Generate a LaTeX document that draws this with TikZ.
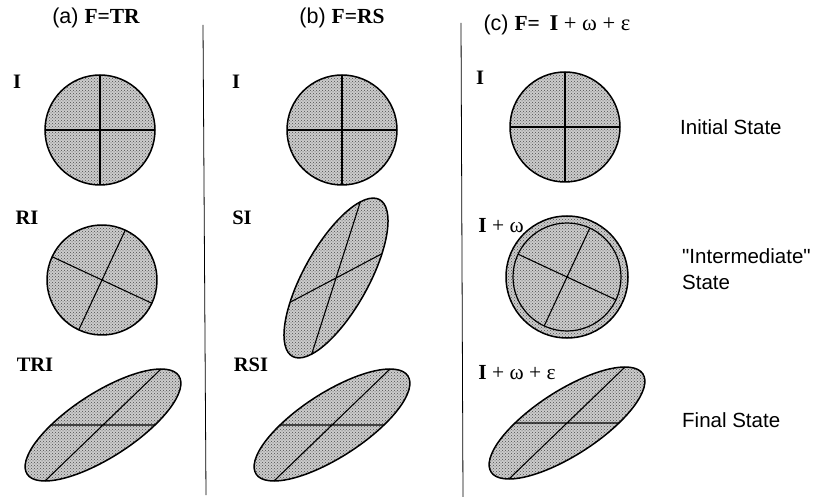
\documentclass[tikz,border=0pt]{standalone}
\usepackage{fontspec}
\setmainfont{Liberation Serif}
\setsansfont{Liberation Sans}
\newfontfamily\plainsans{Liberation Sans}
\usetikzlibrary{patterns}

\begin{document}
\begin{tikzpicture}[x=1pt, y=-1pt,
    blob/.style={draw=black, line width=1.5pt, preaction={fill=black!20},
      pattern=crosshatch dots, pattern color=black!70},
    axes/.style={line width=1.1pt},
    divider/.style={line width=0.8pt},
    tag/.style={inner sep=0pt, font=\rmfamily\bfseries\fontsize{20.5}{20.5}\selectfont},
    head/.style={inner sep=0pt, font=\plainsans\fontsize{21.5}{21.5}\selectfont},
    side/.style={inner sep=0pt, anchor=west, align=left,
      font=\plainsans\fontsize{20.5}{26}\selectfont}]
  \useasboundingbox (0,0) rectangle (817,497);

  % Column headings
  \node[head] (hdA) at (96,18) {(a) {\rmfamily\bfseries F=TR}};
  \node[head] (hdB) at (342,18) {(b) {\rmfamily\bfseries F=RS}};
  \node[head] (hdC) at (557,25) {(c) {\rmfamily\bfseries F=}\,
    {\rmfamily\fontsize{22.5}{22.5}\selectfont\textbf{I} + ω + ε}};

  % Dividers between the columns
  \draw[divider] (203,25) -- (206,495);
  \draw[divider] (461,23) -- (463,497);

  % Row labels
  \node[tag] (tAI) at (17,82) {I};
  \node[tag] (tBI) at (236,82) {I};
  \node[tag] (tCI) at (480,78) {I};
  \node[tag] (tRI) at (27,218) {RI};
  \node[tag] (tSI) at (242,218) {SI};
  \node[tag, font=\rmfamily\fontsize{21.5}{21.5}\selectfont] (tIw) at (501,226) {\textbf{I} + ω};
  \node[tag] (tTRI) at (35,365) {TRI};
  \node[tag] (tRSI) at (251,365) {RSI};
  \node[tag, font=\rmfamily\fontsize{21.5}{21.5}\selectfont] (tIwe) at (517,373) {\textbf{I} + ω + ε};

  % Initial state: undeformed circles
  \foreach \cx/\cy in {100/130, 342/130, 565/127} {
    \begin{scope}[shift={(\cx,\cy)}]
      \draw[blob] (0,0) circle (55pt);
      \draw[axes] (-55,0) -- (55,0) (0,-55) -- (0,55);
    \end{scope}
  }

  % (a) rotation R
  \begin{scope}[shift={(102,280)}, rotate=-25]
    \draw[blob] (0,0) circle (55pt);
    \draw[axes] (-55,0) -- (55,0) (0,-55) -- (0,55);
  \end{scope}

  % (b) stretch S
  \begin{scope}[shift={(336,278)}, cm={0.836,0.442,0.442,1.384,(0,0)}]
    \draw[blob] (0,0) circle (55pt);
    \draw[axes] (-55,0) -- (55,0) (0,-55) -- (0,55);
  \end{scope}

  % (c) I + omega, with its slight growth
  \begin{scope}[shift={(567,277)}]
    \draw[blob] (0,0) circle (61pt);
    \draw[line width=1.2pt] (0,0) circle (54pt);
    \begin{scope}[rotate=-25]
      \draw[axes] (-54,0) -- (54,0) (0,-54) -- (0,54);
    \end{scope}
  \end{scope}

  % Final state F in every column
  \foreach \cx/\cy in {103/425, 332/425, 567/423} {
    \begin{scope}[shift={(\cx,\cy)}, cm={0.945,0,1.055,1.018,(0,0)}]
      \draw[blob] (0,0) circle (55pt);
      \draw[axes] (-55,0) -- (55,0) (0,-55) -- (0,55);
    \end{scope}
  }

  % State names on the right
  \node[side] (sInit) at (680,127) {Initial State};
  \node[side] (sMid) at (682,269) {"Intermediate"\\State};
  \node[side] (sFin) at (682,420) {Final State};
\end{tikzpicture}
\end{document}
